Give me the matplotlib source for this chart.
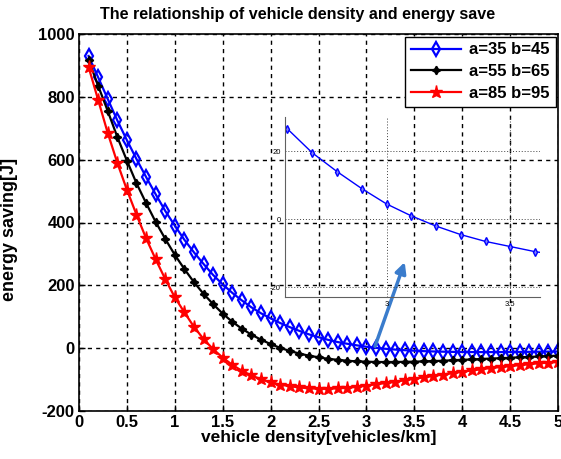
import numpy as np
import matplotlib
matplotlib.use("Agg")
import matplotlib.pyplot as plt

plt.rcParams['font.family'] = ['Liberation Sans', 'DejaVu Sans']
plt.rcParams['axes.unicode_minus'] = False

# vehicle density [vehicles/km]
density = [0.1, 0.2, 0.3, 0.4, 0.5, 0.6, 0.7, 0.8, 0.9, 1.0,
           1.1, 1.2, 1.3, 1.4, 1.5, 1.6, 1.7, 1.8, 1.9, 2.0,
           2.1, 2.2, 2.3, 2.4, 2.5, 2.6, 2.7, 2.8, 2.9, 3.0,
           3.1, 3.2, 3.3, 3.4, 3.5, 3.6, 3.7, 3.8, 3.9, 4.0,
           4.1, 4.2, 4.3, 4.4, 4.5, 4.6, 4.7, 4.8, 4.9, 5.0]

# energy saving [J]
save_35_45 = [930, 862, 793, 725, 662, 602, 545, 490, 437, 390,
              345, 305, 268, 233, 203, 176, 152, 130, 111, 95,
              80, 67, 55, 44, 35, 26.5, 19.5, 14, 9, 4.5,
              1, -2, -4.5, -6.5, -8, -9.5, -10.5, -11.2, -11.8, -12.2,
              -12.4, -12.5, -12.5, -12.4, -12.2, -12, -11.7, -11.4, -11, -10.6]
save_55_65 = [918, 835, 755, 672, 597, 525, 462, 402, 348, 297,
              252, 210, 173, 140, 110, 84, 62, 43, 27, 13,
              1, -9, -17, -24, -29, -34, -37, -40, -42, -43,
              -44, -44, -44, -43.5, -43, -42, -41, -40, -38.5, -37,
              -36, -34.5, -33, -32, -30.5, -29, -28, -26.5, -25, -24]
save_85_95 = [895, 790, 685, 590, 504, 425, 350, 283, 220, 162,
              114, 68, 29, -3, -30, -53, -72, -87, -99, -109,
              -116, -121, -125, -128, -129, -129, -128, -126, -123, -119,
              -115, -111, -107, -102, -97, -93, -88, -84, -79, -75,
              -71, -67, -63, -60, -57, -54, -51, -48, -46, -44]

labels = ['a=35 b=45', 'a=55 b=65', 'a=85 b=95']

fig = plt.figure(figsize=(5.61, 4.59), dpi=100)
ax = fig.add_axes([79 / 561, 1 - 411 / 459, 479 / 561, 377 / 459])

ax.plot(density, save_35_45, '-', color='#0000ff', lw=1.6, marker='d', ms=7.5,
        mfc='none', mew=1.6, label=labels[0])
ax.plot(density, save_55_65, '-', color='black', lw=1.6, marker=(4, 1, 0), ms=6,
        mew=1.2, label=labels[1])
ax.plot(density, save_85_95, '-', color='#ff0000', lw=1.6, marker='*', ms=9.5,
        mew=1.0, label=labels[2])

ax.set_xlim(0, 5)
ax.set_ylim(-200, 1000)
ax.set_xticks(np.arange(0, 5.01, 0.5))
ax.set_xticklabels(['0', '0.5', '1', '1.5', '2', '2.5', '3', '3.5', '4', '4.5', '5'])
ax.set_yticks(np.arange(-200, 1001, 200))
ax.grid(True, color='black', ls=(0, (3, 3)), lw=1.0)
ax.tick_params(direction='in', length=4, labelsize=12, width=1, pad=3)
for t in ax.get_xticklabels() + ax.get_yticklabels():
    t.set_fontweight('bold')
for s in ax.spines.values():
    s.set_linewidth(1.2)

# title and y label sit a little off-centre in the original
fig.text(298 / 561, 1 - 15 / 459, 'The relationship of vehicle density and energy save',
         fontsize=11.6, fontweight='bold', ha='center', va='center')
fig.text(10 / 561, 1 - 229 / 459, 'energy saving[J]', fontsize=13,
         fontweight='bold', rotation=90, ha='center', va='center')
ax.set_xlabel('vehicle density[vehicles/km]', fontsize=12.5, fontweight='bold', labelpad=0)

leg = ax.legend(loc='upper right', prop={'weight': 'bold', 'size': 12},
                handlelength=3.0, borderaxespad=0.15, fancybox=False,
                framealpha=1, edgecolor='black', borderpad=0.35, labelspacing=0.4,
                handletextpad=0.5)
leg.get_frame().set_linewidth(1.0)

# arrow pointing from the curve to the zoom window
ax.annotate('', xy=(3.40, 274), xytext=(3.09, 6),
            arrowprops=dict(arrowstyle='-|>', color='#3a7ccc', lw=2.5,
                            mutation_scale=16, shrinkA=0, shrinkB=0))

# zoomed inset
ins = fig.add_axes([285 / 561, 1 - 297 / 459, 255 / 561, 180 / 459])
ins.patch.set_alpha(0)
ins.plot(density, save_35_45, '-', color='#0000ff', lw=1.0, marker='d', ms=4,
         mfc='#8080ff', mew=1.0)
ins.set_xlim(2.59, 3.62)
ins.set_ylim(-22.8, 30)
ins.set_xticks([3, 3.5])
ins.set_xticklabels(['3', '3.5'])
ins.set_yticks([-20, 0, 20])
ins.grid(True, color='#404040', ls=(0, (1, 2)), lw=0.7)
ins.tick_params(direction='in', length=0, labelsize=5.5, pad=3)
ins.spines['top'].set_visible(False)
ins.spines['right'].set_visible(False)
for s in ['left', 'bottom']:
    ins.spines[s].set_color('#606060')
    ins.spines[s].set_linewidth(0.8)

fig.savefig('out.png', dpi=100)
